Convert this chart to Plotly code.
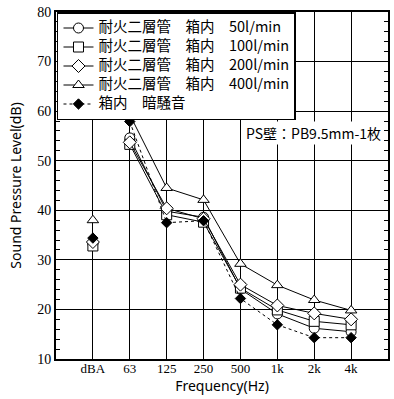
import plotly.graph_objects as go

categories = ["dBA", "63", "125", "250", "500", "1k", "2k", "4k"]
s50 = [33.3, 54.6, 39.8, 38.6, 24.1, 19.1, 16.2, 15.5]
s100 = [32.8, 53.3, 39.1, 37.6, 24.3, 19.9, 17.6, 16.9]
s200 = [33.6, 53.7, 40.4, 38.3, 25.0, 20.8, 19.2, 18.0]
s400 = [38.0, 59.3, 44.5, 42.1, 29.2, 24.9, 21.9, 19.8]
background = [34.4, 57.9, 37.5, 37.9, 22.2, 16.9, 14.3, 14.3]

names = ["耐火二層管　箱内　50l/min", "耐火二層管　箱内　100l/min",
         "耐火二層管　箱内　200l/min", "耐火二層管　箱内　400l/min",
         "箱内　暗騒音"]
series = [s50, s100, s200, s400, background]
symbols = ["circle", "square", "diamond", "triangle-up", "diamond"]
sizes = [10, 10, 10, 10, 8]
fills = ["white", "white", "white", "white", "black"]
dashes = ["solid", "solid", "solid", "solid", "dot"]

fig = go.Figure()
for name, ys, sym, sz, fc, dash in zip(names, series, symbols, sizes, fills, dashes):
    mk = dict(symbol=sym, size=sz, color=fc, line=dict(color="black", width=1))
    fig.add_trace(go.Scatter(x=categories[1:], y=ys[1:], mode="lines+markers",
                             name='<span style="font-size:14.5px">' + name + '</span>',
                             line=dict(color="black", width=1, dash=dash), marker=mk))
    fig.add_trace(go.Scatter(x=categories[:1], y=ys[:1], mode="markers", showlegend=False,
                             marker=mk))

fig.update_layout(
    width=394, height=399,
    margin=dict(l=56, r=4, t=12, b=40),
    paper_bgcolor="white", plot_bgcolor="white",
    showlegend=True,
    legend=dict(x=0.003, y=1, xanchor="left", yanchor="top",
                bgcolor="white", bordercolor="black", borderwidth=1.5,
                font=dict(family="Noto Sans CJK JP", size=11, color="black"),
                tracegroupgap=0, itemwidth=30),
    annotations=[dict(text="PS壁：PB9.5mm-1枚", xref="paper", yref="paper",
                      x=0.985, y=0.651, xanchor="right", yanchor="middle",
                      showarrow=False, bgcolor="white",
                      font=dict(family="Noto Sans CJK JP", size=14, color="black"))],
)
fig.update_xaxes(
    type="category", categoryorder="array", categoryarray=categories,
    range=[-1, 8], showgrid=True, gridcolor="black", gridwidth=1,
    showline=True, linecolor="black", linewidth=2, mirror=True,
    ticks="", ticklabelstandoff=-4,
    tickfont=dict(family="Liberation Serif", size=13, color="black"),
    title=dict(text="Frequency(Hz)", standoff=0,
               font=dict(family="Noto Sans", size=14, color="black")),
    zeroline=False,
)
fig.update_yaxes(
    range=[10, 80], dtick=10, showgrid=True, gridcolor="black", gridwidth=1,
    showline=True, linecolor="black", linewidth=2, mirror="ticks",
    ticks="inside", ticklen=4, tickcolor="black",
    minor=dict(dtick=2, ticks="inside", ticklen=4, tickcolor="black", showgrid=False),
    tickfont=dict(family="Liberation Serif", size=14, color="black"),
    title=dict(text="Sound Pressure Level(dB)", standoff=12,
               font=dict(family="Noto Sans", size=14, color="black")),
    zeroline=False,
)
fig.write_html("out.html", config={"displayModeBar": False},
               post_script="document.body.style.margin='0';")
